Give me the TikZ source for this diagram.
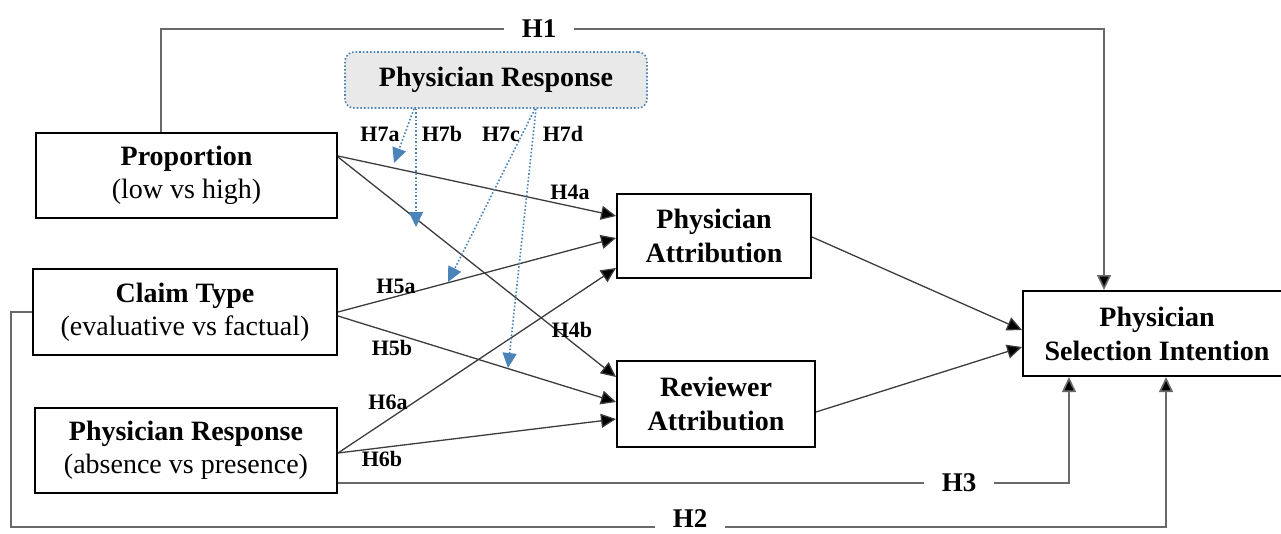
\documentclass[tikz,border=0pt]{standalone}
\usepackage{fontspec}
\setmainfont{Liberation Serif}
\usetikzlibrary{arrows.meta,calc}
\definecolor{lineg}{RGB}{60,60,60}
\definecolor{hgray}{RGB}{105,105,105}
\definecolor{modblue}{RGB}{74,132,184}
\definecolor{modfill}{RGB}{233,233,233}
\begin{document}
\begin{tikzpicture}[x=1pt,y=-1pt,
  box/.style={draw=black,line width=2pt,rectangle,inner sep=0pt,align=center,
    font=\fontsize{28}{33}\selectfont},
  modbox/.style={draw=modblue,fill=modfill,line width=1.6pt,dotted,rounded corners=9pt,
    inner sep=0pt,align=center,font=\fontsize{28}{33}\selectfont\bfseries},
  conn/.style={draw=lineg,line width=1.3pt,-{Triangle[length=15pt,width=14pt,fill=black]}},
  hpath/.style={draw=hgray,line width=1.6pt,-{Triangle[length=15pt,width=14pt,fill=black]}},
  modarr/.style={draw=modblue,line width=1.6pt,dotted,-{Triangle[length=15pt,width=14pt,fill=modblue]}},
  lab/.style={font=\fontsize{22}{24}\selectfont\bfseries,inner sep=0pt},
  hlab/.style={font=\fontsize{27}{28}\selectfont\bfseries,fill=white,inner xsep=18pt,inner ysep=1pt}
]
\useasboundingbox (0,0) rectangle (1281,533);

% boxes
\node[box,minimum width=301pt,minimum height=85pt] (prop) at (186.5,175.5)
  {\textbf{Proportion}\\(low vs high)};
\node[box,minimum width=304pt,minimum height=86pt] (claim) at (185,312)
  {\textbf{Claim Type}\\(evaluative vs factual)};
\node[box,minimum width=302pt,minimum height=85pt] (resp) at (186,450.5)
  {\textbf{Physician Response}\\(absence vs presence)};
\node[box,minimum width=194pt,minimum height=84pt,font=\fontsize{28}{34}\selectfont\bfseries] (pattr) at (714,236)
  {Physician\\Attribution};
\node[box,minimum width=198pt,minimum height=86pt,font=\fontsize{28}{34}\selectfont\bfseries] (rattr) at (716,404)
  {Reviewer\\Attribution};
\node[box,minimum width=268pt,minimum height=85pt,font=\fontsize{28}{34}\selectfont\bfseries] (sel) at (1157,333.5)
  {Physician\\Selection Intention};
\node[modbox,minimum width=302pt,minimum height=56pt] (mod) at (496,80) {Physician Response};

% outer hypothesis paths
\coordinate (h1c) at (539,29);
\coordinate (h3c) at (959,483);
\draw[hpath] ([xshift=-25.5pt]prop.north) |- (h1c) -| ([xshift=-53pt]sel.north);
\draw[hpath] (claim.west) -| (11,527) -| ([xshift=9pt]sel.south);
\draw[hpath] ([yshift=-32.5pt]resp.east) -| ([xshift=-88pt]sel.south);
\node[hlab] (h1) at (h1c) {H1};
\node[hlab,inner ysep=3pt] (h2) at (690,519) {H2};
\node[hlab] (h3) at (h3c) {H3};

% main connectors
\draw[conn] ([yshift=19.5pt]prop.east) -- ([yshift=20pt]pattr.west);
\draw[conn] ([yshift=18.5pt]prop.east) -- ([yshift=27pt]rattr.west);
\draw[conn] (claim.east) -- ([yshift=-2pt]pattr.west);
\draw[conn] ([yshift=-4pt]claim.east) -- ([yshift=2pt]rattr.west);
\draw[conn] ([yshift=-2.5pt]resp.east) -- ([yshift=-32pt]pattr.west);
\draw[conn] ([yshift=-2.5pt]resp.east) -- ([yshift=-15pt]rattr.west);
\draw[conn] ([yshift=-1pt]pattr.east) -- ([yshift=3.5pt]sel.west);
\draw[conn] ([yshift=-8pt]rattr.east) -- ([yshift=-13.5pt]sel.west);

% moderator arrows
\coordinate (t7a) at (394,163);
\coordinate (t7b) at (416,227);
\coordinate (t7c) at (448,282);
\coordinate (t7d) at (508,368);
\draw[modarr] ([xshift=-82pt]mod.south) -- (t7a);
\draw[modarr] ([xshift=-80pt]mod.south) -- (t7b);
\draw[modarr] ([xshift=39pt]mod.south) -- (t7c);
\draw[modarr] ([xshift=40pt]mod.south) -- (t7d);

% labels
\node[lab] (l7a) at (380,134) {H7a};
\node[lab] (l7b) at (442,134) {H7b};
\node[lab] (l7c) at (501,134) {H7c};
\node[lab] (l7d) at (563,134) {H7d};
\node[lab] (l4a) at (570,192) {H4a};
\node[lab] (l4b) at (572,330) {H4b};
\node[lab] (l5a) at (396,286) {H5a};
\node[lab] (l5b) at (392,348) {H5b};
\node[lab] (l6a) at (388,402) {H6a};
\node[lab] (l6b) at (382,459) {H6b};
\end{tikzpicture}
\end{document}
